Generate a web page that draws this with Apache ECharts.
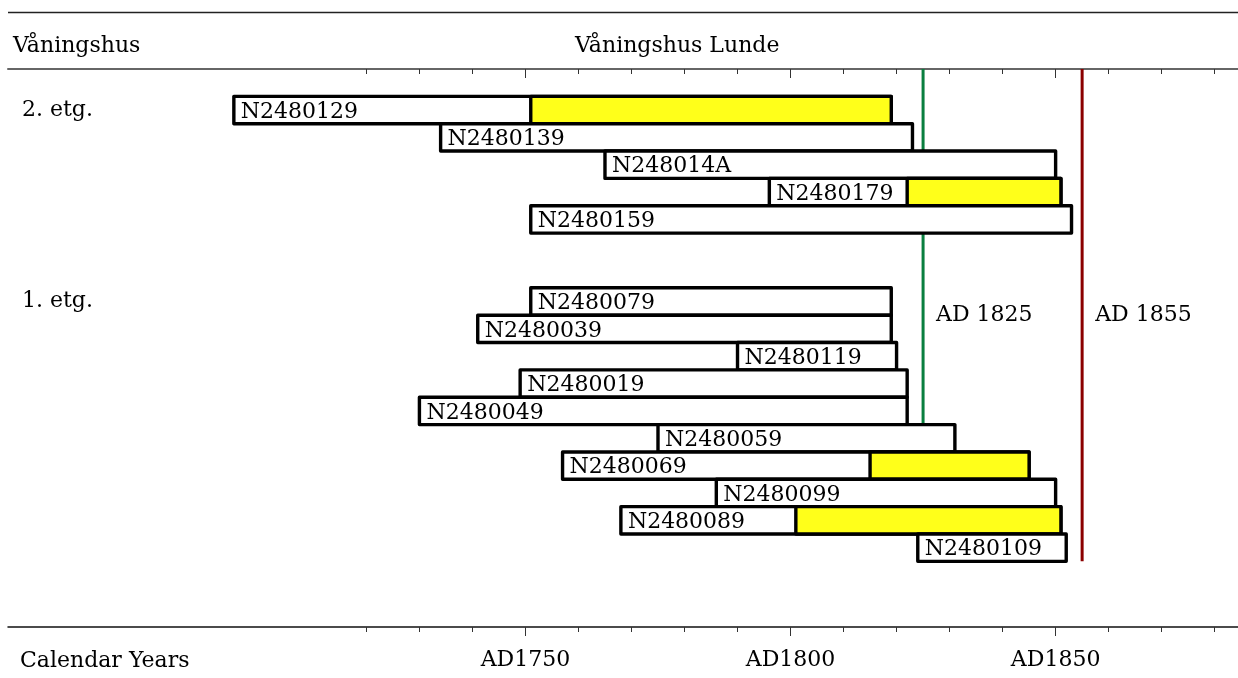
<!DOCTYPE html>
<html>
<head>
<meta charset="utf-8">
<script src="https://cdn.jsdelivr.net/npm/echarts@6/dist/echarts.min.js"></script>
<style>
  html, body { margin: 0; padding: 0; background: #fff; }
  #chart { width: 1238px; height: 678px; }
</style>
</head>
<body>
<div id="chart"></div>
<script>
// prøver (samples), rekkefølge ovenfra og ned
const samples = ["N2480129", "N2480139", "N248014A", "N2480179", "N2480159",
    "N2480079", "N2480039", "N2480119", "N2480019", "N2480049",
    "N2480059", "N2480069", "N2480099", "N2480089", "N2480109"];
const rows = [1, 2, 3, 4, 5, 8, 9, 10, 11, 12, 13, 14, 15, 16, 17];
const startYears = [1695, 1734, 1765, 1796, 1751, 1751, 1741, 1790, 1749, 1730, 1775, 1757, 1786, 1768, 1824];
const endYears = [1819, 1823, 1850, 1851, 1853, 1819, 1819, 1820, 1822, 1822, 1831, 1845, 1850, 1851, 1852];
// yte (gul del), null = ingen
const sapwoodFrom = [1751, null, null, 1822, null, null, null, null, null, null, null, 1815, null, 1801, null];

const groupNames = ["2. etg.", "1. etg."];
const groupRows = [1, 8];

const markerYears = [1825, 1855];
const markerLabels = ["AD 1825", "AD 1855"];

const tickYears = [1720, 1730, 1740, 1750, 1760, 1770, 1780, 1790, 1800, 1810, 1820, 1830, 1840, 1850, 1860, 1870, 1880];
const labelYears = [1750, 1800, 1850];

const FONT = "DejaVu Serif";
const markerColors = ["#0a7f3f", "#8b0000"];

let myChart = echarts.init(document.getElementById("chart"));

const barData = samples.map(function (s, i) {
    return [startYears[i], endYears[i], rows[i], sapwoodFrom[i] === null ? "-" : sapwoodFrom[i], i];
});

function renderBar(params, api) {
    const i = api.value(4);
    const p0 = api.coord([api.value(0), api.value(2)]);
    const p1 = api.coord([api.value(1), api.value(2) + 1]);
    const h = p1[1] - p0[1];
    const children = [{
        type: "rect",
        shape: { x: p0[0], y: p0[1], width: p1[0] - p0[0], height: h },
        style: { fill: "#fff", stroke: "#000", lineWidth: 3.4, lineJoin: "round" }
    }];
    if (sapwoodFrom[i] !== null) {
        const ps = api.coord([sapwoodFrom[i], api.value(2)]);
        children.push({
            type: "rect",
            shape: { x: ps[0], y: p0[1], width: p1[0] - ps[0], height: h },
            style: { fill: "#ffff1a", stroke: "#000", lineWidth: 3.4, lineJoin: "round" }
        });
    }
    children.push({
        type: "text",
        style: {
            x: p0[0] + 7, y: p0[1] + h / 2 + 2,
            text: samples[i],
            font: "22px '" + FONT + "'",
            fill: "#000",
            verticalAlign: "middle"
        }
    });
    return { type: "group", children: children };
}

function renderMarker(params, api) {
    const i = params.dataIndex;
    const top = api.coord([markerYears[i], 0]);
    const bottom = api.coord([markerYears[i], 18]);
    const mid = api.coord([markerYears[i], 9]);
    return {
        type: "group",
        children: [{
            type: "line",
            shape: { x1: top[0], y1: top[1], x2: bottom[0], y2: bottom[1] },
            style: { stroke: markerColors[i], lineWidth: 3 }
        }, {
            type: "text",
            style: {
                x: mid[0] + 13, y: mid[1],
                text: markerLabels[i],
                font: "22px '" + FONT + "'",
                fill: "#000",
                verticalAlign: "middle"
            }
        }]
    };
}

function renderGroup(params, api) {
    const i = params.dataIndex;
    const p = api.coord([0, groupRows[i] + 0.5]);
    return {
        type: "text",
        style: {
            x: params.coordSys.x + 14, y: p[1],
            text: groupNames[i],
            font: "22px '" + FONT + "'",
            fill: "#000",
            verticalAlign: "middle"
        }
    };
}

const xMin = 1652.4, xMax = 1884.4;
const titleStyle = { fontFamily: FONT, fontSize: 22, fontWeight: "normal", color: "#000" };

let option = {
    animation: false,
    backgroundColor: "#fff",
    title: [
        { text: "Våningshus Lunde", left: 575, top: 35, padding: 0, textStyle: titleStyle },
        { text: "Våningshus", left: 13, top: 35, padding: 0, textStyle: titleStyle },
        { text: "Calendar Years", left: 20, top: 650, padding: 0, textStyle: titleStyle }
    ],
    graphic: [{
        type: "line",
        shape: { x1: 8, y1: 12.5, x2: 1238, y2: 12.5 },
        style: { stroke: "#222", lineWidth: 1.5 }
    }],
    grid: { left: 8, right: 0, top: 69, bottom: 51 },
    xAxis: [{
        type: "value", position: "bottom", min: xMin, max: xMax,
        axisLine: { show: true, onZero: false, lineStyle: { color: "#111", width: 1.5 } },
        axisTick: { show: true, customValues: tickYears, length: 5, lineStyle: { color: "#333" } },
        axisLabel: {
            customValues: labelYears, margin: 22,
            formatter: function (v) { return "AD" + v; },
            fontFamily: FONT, fontSize: 22, color: "#000"
        },
        splitLine: { show: false }
    }, {
        type: "value", position: "top", min: xMin, max: xMax,
        axisLine: { show: true, onZero: false, lineStyle: { color: "#666", width: 2 } },
        axisTick: { show: true, inside: true, customValues: tickYears, length: 5, lineStyle: { color: "#333" } },
        axisLabel: { show: false },
        splitLine: { show: false }
    }, {
        type: "value", position: "bottom", min: xMin, max: xMax,
        axisLine: { show: false, onZero: false },
        axisTick: { show: true, customValues: labelYears, length: 9, lineStyle: { color: "#333" } },
        axisLabel: { show: false },
        splitLine: { show: false }
    }, {
        type: "value", position: "top", min: xMin, max: xMax,
        axisLine: { show: false, onZero: false },
        axisTick: { show: true, inside: true, customValues: labelYears, length: 9, lineStyle: { color: "#333" } },
        axisLabel: { show: false },
        splitLine: { show: false }
    }],
    yAxis: {
        type: "value", inverse: true, min: 0, max: 20.4, show: false
    },
    series: [{
        type: "custom",
        name: "markers",
        renderItem: renderMarker,
        data: markerYears,
        z: 1
    }, {
        type: "custom",
        name: "groups",
        renderItem: renderGroup,
        data: groupRows,
        z: 2
    }, {
        type: "custom",
        name: "prøver",
        renderItem: renderBar,
        encode: { x: [0, 1], y: 2 },
        data: barData,
        z: 3
    }]
};
myChart.setOption(option);
</script>
</body>
</html>
